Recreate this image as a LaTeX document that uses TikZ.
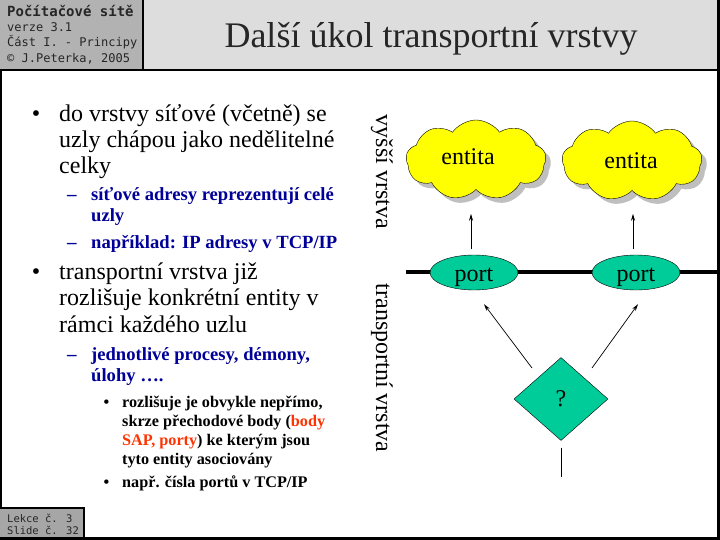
\documentclass[tikz,border=0pt]{standalone}
\usepackage{fontspec}
\setmainfont{Liberation Serif}
\newfontfamily\monofont{DejaVu Sans Mono}
\usetikzlibrary{shapes.geometric,shapes.symbols,shadows,calc,arrows.meta}
\definecolor{tealc}{HTML}{00CC99}
\definecolor{cloudy}{HTML}{FFFF00}
\definecolor{subblue}{HTML}{000099}
\definecolor{redc}{HTML}{FF3300}
\definecolor{titlebg}{HTML}{DDDDDD}
\definecolor{logobg}{HTML}{B2B2B2}
\definecolor{lekcebg}{HTML}{A6A6A6}
\newcommand\myfs[1]{\fontsize{#1}{#1}\selectfont}
\newcommand\placetxt[3]{\raisebox{#2}[0pt][0pt]{\makebox[0pt]{\hspace*{#1}#3}}}
\tikzset{
  mt/.style={anchor=base west, inner sep=0pt, font=\myfs{24}},
  st/.style={anchor=base west, inner sep=0pt, font=\myfs{18.6}\bfseries, text=subblue},
  tt/.style={anchor=base west, inner sep=0pt, font=\myfs{16.2}\bfseries},
  bul/.style={anchor=base, inner sep=0pt, font=\myfs{24}},
  dsh/.style={anchor=base west, inner sep=0pt, font=\myfs{19}\bfseries, text=subblue},
  sbul/.style={anchor=base, inner sep=0pt, font=\myfs{16.2}\bfseries},
  vt/.style={rotate=-90, inner sep=0pt, font=\myfs{24}},
  ent/.style={cloud, cloud puffs=9, cloud puff arc=110, aspect=1.7, draw, fill=cloudy,
    minimum width=140pt, minimum height=80pt, inner sep=0pt, font=\myfs{24},
    copy shadow={shadow xshift=5pt, shadow yshift=-5pt, fill=black!25, draw=none}},
  prt/.style={ellipse, draw, fill=tealc, minimum width=88pt, minimum height=35pt,
    inner sep=0pt, font=\myfs{24}},
  dia/.style={diamond, draw, fill=tealc, minimum width=94pt, minimum height=83pt,
    inner sep=0pt, font=\myfs{24}},
  arr/.style={-{Stealth[length=7pt,width=4pt]}, line width=0.7pt},
  mono/.style={anchor=base west, inner sep=0pt, text=black!85},
}
\begin{document}
\begin{tikzpicture}[x=1pt,y=-1pt]
\useasboundingbox (0,0) rectangle (720,540);
\fill[white] (0,0) rectangle (720,540);
% header
\fill[logobg] (0,0) rectangle (143,70);
\fill[titlebg] (143,0) rectangle (717,70);
\draw[line width=1.2pt] (143,0) -- (143,70);
\draw[line width=1.5pt] (0,70) -- (718,70);
\draw[line width=3pt] (718.5,0) -- (718.5,540);
\draw[line width=3pt] (0,538.5) -- (720,538.5);
\draw[line width=1.5pt] (0.75,70) -- (0.75,540);
\node[mono, font=\monofont\bfseries\myfs{14}] (h1) at (7,17) {Počítačové sítě};
\node[mono, font=\monofont\myfs{12}] (h2) at (7,32) {verze 3.1};
\node[mono, font=\monofont\myfs{12}] (h3) at (7,47) {Část I. - Principy};
\node[mono, font=\monofont\myfs{12}] (h4) at (7,63) {© J.Peterka, 2005};
\node[anchor=base, inner sep=0pt, font=\myfs{36}, text=black!85] (title) at (431,48) {Další úkol transportní vrstvy};
% footer box
\fill[lekcebg] (0,508) rectangle (84,537);
\draw[line width=1.2pt] (0,508) -- (84,508) -- (84,538);
\node[mono, font=\monofont\myfs{10.5}] (f1) at (7,522) {Lekce č. 3};
\node[mono, font=\monofont\myfs{10.5}] (f2) at (7,534) {Slide č. 32};
% text
\node[bul] (u1) at (36,122) {•};
\node[mt] (l1) at (59,122) {do vrstvy síťové (včetně) se};
\node[mt] (l2) at (59,148) {uzly chápou jako nedělitelné};
\node[mt] (l3) at (59,174) {celky};
\node[dsh] (d1) at (67,201) {–};
\node[st] (l4) at (91,201) {síťové adresy reprezentují celé};
\node[st] (l5) at (91,222) {uzly};
\node[dsh] (d2) at (67,248) {–};
\node[st] (l6) at (91,248) {například: IP adresy v TCP/IP};
\node[bul] (u2) at (36,279) {•};
\node[mt] (l7) at (59,279) {transportní vrstva již};
\node[mt] (l8) at (59,305) {rozlišuje konkrétní entity v};
\node[mt] (l9) at (59,332) {rámci každého uzlu};
\node[dsh] (d3) at (67,360) {–};
\node[st] (l10) at (91,360) {jednotlivé procesy, démony,};
\node[st] (l11) at (91,381) {úlohy ….};
\node[sbul] (s1) at (106.5,407) {•};
\node[tt] (l12) at (122,407) {rozlišuje je obvykle nepřímo,};
\node[tt] (l13) at (122,426) {skrze přechodové body (\textcolor{redc}{body}};
\node[tt] (l14) at (122,445) {\textcolor{redc}{SAP, porty}) ke kterým jsou};
\node[tt] (l15) at (122,464) {tyto entity asociovány};
\node[sbul] (s2) at (106.5,487) {•};
\node[tt] (l16) at (122,487) {např. čísla portů v TCP/IP};
% diagram
\node[vt] (vv) at (382,172) {vyšší vrstva};
\node[vt] (tv) at (382,368) {transportní vrstva};
\coordinate (lineL) at (406,272);
\coordinate (lineR) at (720,272);
\draw[line width=4pt] (lineL) -- (lineR);
\node[ent] (cL) at (476,160) {\placetxt{-16pt}{-5pt}{entita}};
\node[ent] (cR) at (632,161) {\placetxt{-2pt}{-8pt}{entita}};
\node[prt] (pL) at (474,272.5) {\placetxt{0pt}{-9pt}{port}};
\node[prt] (pR) at (636,272.5) {\placetxt{0pt}{-9pt}{port}};
\node[dia] (d) at (561,399) {?};
\coordinate (bot) at (561,477);
\draw[arr] ($(pL.north)+(-3,-6)$) -- ($(pL.north)+(-3,-41)$);
\draw[arr] ($(pR.north)+(-3,-6)$) -- ($(pR.north)+(-3,-41)$);
\draw[arr] ($(d.center)+(-29,-31)$) -- ($(pL.south)+(10,14)$);
\draw[arr] ($(d.center)+(31,-31)$) -- ($(pR.south)+(2,14)$);
\draw[line width=0.8pt, shorten <=7pt] (d.south) -- (bot);
\end{tikzpicture}
\end{document}
